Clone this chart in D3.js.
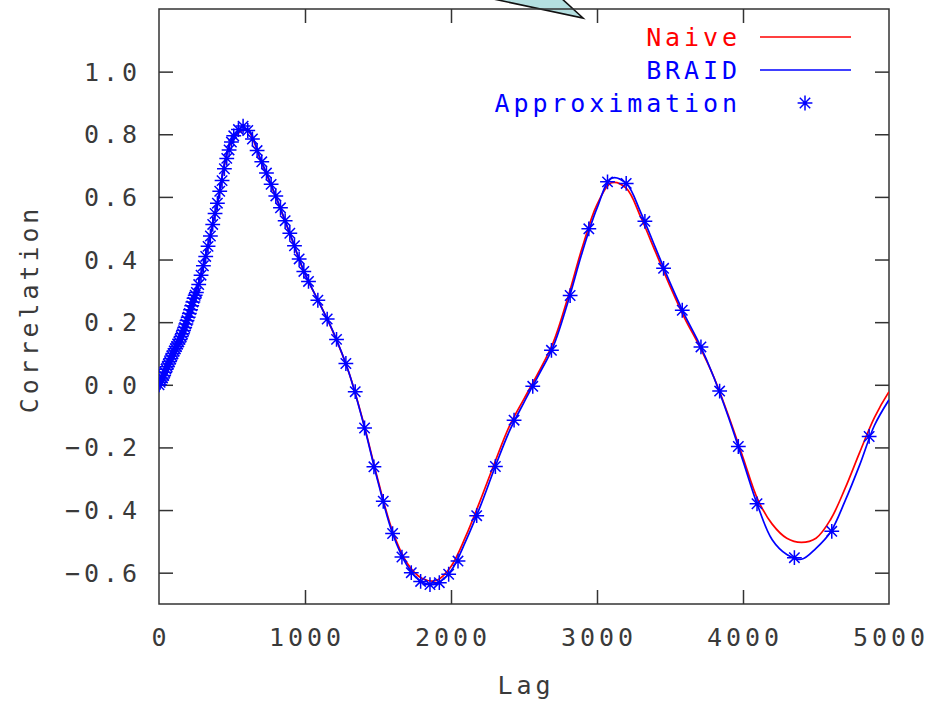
<!DOCTYPE html>
<html>
<head>
<meta charset="utf-8">
<script src="https://cdn.jsdelivr.net/npm/d3@7/dist/d3.min.js"></script>
<style>
  html, body { margin: 0; padding: 0; background: #fff; }
  svg { display: block; }
  text { font-family: "DejaVu Sans Mono", monospace; fill: #3a3a3a; }
</style>
</head>
<body>
<svg id="chart" width="932" height="701"></svg>
<script>
// ---- data ----
const curveLag = [0,100,200,300,400,500,600,700,800,900,1000,1100,1200,1300,1400,1500,1600,1700,1800,1900,2000,
  2100,2200,2300,2400,2500,2600,2700,2800,2900,3000,3100,3200,3300,3400,3500,3600,3700,3800,3900,4000,
  4100,4200,4300,4400,4500,4600,4700,4800,4900,5000];
const naive = [0.000,0.100,0.216,0.375,0.580,0.780,0.815,0.712,0.600,0.477,0.353,0.260,0.160,0.040,-0.120,-0.305,-0.468,-0.570,-0.618,-0.625,-0.580,
  -0.485,-0.370,-0.248,-0.132,-0.045,0.040,0.135,0.278,0.440,0.575,0.645,0.628,0.535,0.425,0.315,0.213,0.125,0.025,-0.098,-0.232,
  -0.365,-0.445,-0.490,-0.503,-0.490,-0.430,-0.330,-0.215,-0.105,-0.022];
const braid = [0.000,0.104,0.216,0.373,0.580,0.782,0.818,0.716,0.603,0.479,0.355,0.259,0.162,0.040,-0.123,-0.310,-0.475,-0.578,-0.630,-0.635,-0.594,
  -0.500,-0.389,-0.265,-0.148,-0.056,0.031,0.122,0.263,0.425,0.564,0.660,0.643,0.550,0.438,0.326,0.223,0.132,0.024,-0.103,-0.243,
  -0.385,-0.495,-0.542,-0.557,-0.522,-0.470,-0.370,-0.255,-0.130,-0.048];

const approxLag = [0,8,16,24,32,40,48,56,64,72,80,88,96,104,112,120,128,136,144,152,160,168,176,184,192,200,208,216,224,232,240,248,
  256,272,288,304,320,336,352,368,384,400,416,432,448,464,480,496,
  512,544,576,608,640,672,704,736,768,800,832,864,896,928,960,992,
  1024,1088,1152,1216,1280,1344,1408,1472,1536,1600,1664,1728,1792,1856,1920,1984,
  2048,2176,2304,2432,2560,2688,2816,2944,3072,3200,3328,3456,3584,3712,3840,3968,
  4096,4352,4608,4864];
const approxVal = [0.000,0.008,0.015,0.022,0.030,0.040,0.050,0.058,0.066,0.074,0.083,0.092,0.100,0.108,0.115,0.122,0.130,0.137,0.145,0.154,0.163,0.173,0.183,0.194,0.205,0.216,0.228,0.240,0.252,0.264,0.276,0.286,
  0.295,0.320,0.350,0.380,0.410,0.442,0.475,0.512,0.547,0.580,0.618,0.652,0.690,0.723,0.750,0.775,
  0.795,0.815,0.826,0.812,0.785,0.748,0.712,0.676,0.640,0.603,0.565,0.524,0.484,0.444,0.402,0.362,
  0.330,0.270,0.210,0.145,0.068,-0.022,-0.138,-0.262,-0.372,-0.475,-0.550,-0.600,-0.628,-0.638,-0.632,-0.605,
  -0.563,-0.418,-0.261,-0.113,-0.005,0.110,0.285,0.498,0.648,0.643,0.522,0.372,0.238,0.121,-0.020,-0.197,
  -0.380,-0.552,-0.468,-0.165];

const xTicks = [0,1000,2000,3000,4000,5000];
const yTicks = [-0.6,-0.4,-0.2,0.0,0.2,0.4,0.6,0.8,1.0];
const seriesNames = ["Naive","BRAID","Approximation"];
const seriesColors = ["#ff0000","#0000ff","#0000ff"];

// ---- layout ----
const svg = d3.select("#chart");
const L = 159, R = 889, T = 9, B = 604;
const x = d3.scaleLinear().domain([0,5000]).range([L,R]);
const y = d3.scaleLinear().domain([-0.7,1.2]).range([B,T]);
const axisColor = "#333";
const tickLen = 14;
const FS = 25;   // font size
const LS = 3.9;  // letter spacing

// callout shape at the top (partially outside the picture)
svg.append("polygon")
  .attr("points", "484,-3 583,18 560,-3")
  .attr("fill", "#b4dfe0")
  .attr("stroke", "#111")
  .attr("stroke-width", 1.6);

// frame
svg.append("rect").attr("x", L).attr("y", T).attr("width", R-L).attr("height", B-T)
  .attr("fill", "none").attr("stroke", axisColor).attr("stroke-width", 1.5);

// axes via d3 axis generators (inward ticks)
const fmtY = d3.format(".1f");
const axB = svg.append("g").attr("transform", `translate(0,${B})`)
  .call(d3.axisTop(x).tickValues(xTicks.slice(1,-1)).tickSize(tickLen).tickFormat(""));
const axT = svg.append("g").attr("transform", `translate(0,${T})`)
  .call(d3.axisBottom(x).tickValues(xTicks.slice(1,-1)).tickSize(tickLen).tickFormat(""));
const axL = svg.append("g").attr("transform", `translate(${L},0)`)
  .call(d3.axisRight(y).tickValues(yTicks).tickSize(tickLen).tickFormat(""));
const axR = svg.append("g").attr("transform", `translate(${R},0)`)
  .call(d3.axisLeft(y).tickValues(yTicks).tickSize(tickLen).tickFormat(""));
[axB, axT, axL, axR].forEach(g => {
  g.select(".domain").remove();
  g.selectAll(".tick line").attr("stroke", axisColor).attr("stroke-width", 1.5);
});

// tick labels
const lblStyle = sel => sel.attr("font-size", FS).attr("letter-spacing", LS);
svg.append("g").selectAll("text").data(xTicks).join("text")
  .attr("x", d => x(d) + LS/2).attr("y", 646)
  .attr("text-anchor", "middle")
  .call(lblStyle)
  .text(d => String(d));
svg.append("g").selectAll("text").data(yTicks).join("text")
  .attr("x", 137 + LS).attr("y", d => y(d) + 9)
  .attr("text-anchor", "end")
  .call(lblStyle)
  .text(d => fmtY(d).replace("-0.0","0.0"));

// axis titles
svg.append("text").attr("x", 524 + LS/2).attr("y", 694).attr("text-anchor", "middle")
  .call(lblStyle).text("Lag");
svg.append("text").attr("transform", `translate(38,${307 + LS/2}) rotate(-90)`)
  .attr("text-anchor", "middle").call(lblStyle).text("Correlation");

// plot clip
svg.append("clipPath").attr("id", "clip").append("rect")
  .attr("x", L).attr("y", T).attr("width", R-L).attr("height", B-T);
const plot = svg.append("g").attr("clip-path", "url(#clip)");

const line = d3.line().x(d => x(d[0])).y(d => y(d[1])).curve(d3.curveCatmullRom.alpha(0.5));
plot.append("path").datum(curveLag.map((l,i) => [l, naive[i]]))
  .attr("d", line).attr("fill", "none").attr("stroke", seriesColors[0]).attr("stroke-width", 1.7);
plot.append("path").datum(curveLag.map((l,i) => [l, braid[i]]))
  .attr("d", line).attr("fill", "none").attr("stroke", seriesColors[1]).attr("stroke-width", 1.7);

// asterisk marker
const S = 7.4, D = 5.2;
function star(g) {
  g.append("path")
    .attr("d", `M0,${-S}V${S}M${-S},0H${S}M${-D},${-D}L${D},${D}M${-D},${D}L${D},${-D}`)
    .attr("stroke", seriesColors[2]).attr("stroke-width", 1.5).attr("fill", "none");
}
plot.append("g").selectAll("g").data(approxLag.map((l,i) => [l, approxVal[i]])).join("g")
  .attr("transform", d => `translate(${x(d[0])},${y(d[1])})`)
  .each(function() { star(d3.select(this)); });

// legend
const legY = [37, 70, 103];
const leg = svg.append("g");
seriesNames.forEach((name, i) => {
  leg.append("text").attr("x", 737 + LS).attr("y", legY[i] + 9)
    .attr("text-anchor", "end").call(lblStyle)
    .style("fill", seriesColors[i]).text(name);
  if (i < 2) {
    leg.append("line").attr("x1", 760).attr("x2", 851).attr("y1", legY[i]).attr("y2", legY[i])
      .attr("stroke", seriesColors[i]).attr("stroke-width", 1.6);
  } else {
    const g = leg.append("g").attr("transform", `translate(805,${legY[i]})`);
    star(g);
  }
});
</script>
</body>
</html>
